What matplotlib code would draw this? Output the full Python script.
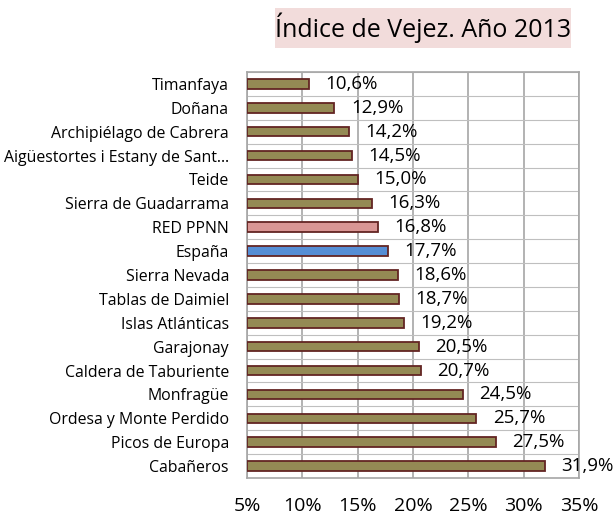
import numpy as np
import matplotlib.pyplot as plt
from matplotlib.patches import Rectangle

parques = ["Timanfaya", "Doñana", "Archipiélago de Cabrera",
           "Aigüestortes i Estany de Sant…", "Teide", "Sierra de Guadarrama",
           "RED PPNN", "España", "Sierra Nevada", "Tablas de Daimiel",
           "Islas Atlánticas", "Garajonay", "Caldera de Taburiente",
           "Monfragüe", "Ordesa y Monte Perdido", "Picos de Europa", "Cabañeros"]
indice = [10.6, 12.9, 14.2, 14.5, 15.0, 16.3, 16.8, 17.7, 18.6, 18.7,
          19.2, 20.5, 20.7, 24.5, 25.7, 27.5, 31.9]
x_ticks = [5, 10, 15, 20, 25, 30, 35]

plt.rcParams['font.family'] = ['Open Sans', 'DejaVu Sans']

colores = []
for p in parques:
    if p == "RED PPNN":
        colores.append("#D99694")
    elif p == "España":
        colores.append("#558ED5")
    else:
        colores.append("#948A54")

W, H = 613, 514
fig = plt.figure(figsize=(W / 100, H / 100), dpi=100)
ax = fig.add_axes([247 / W, 1 - 478 / H, (579 - 247) / W, (478 - 72) / H])

y = np.arange(len(parques))
ax.barh(y, [v - 5 for v in indice], left=5, height=0.4, color=colores,
        edgecolor="#632523", linewidth=1.3, zorder=3)

for yi, v in zip(y, indice):
    ax.text(v + 1.5, yi, f"{v:.1f}%".replace(".", ","), va="center",
            ha="left", fontsize=13.5, color="black", zorder=4)

ax.set_xlim(5, 35)
ax.set_ylim(len(parques) - 0.5, -0.5)
ax.set_xticks(x_ticks)
ax.set_xticklabels([f"{t}%" for t in x_ticks], fontsize=14)
ax.set_yticks(y)
ax.set_yticklabels(parques, fontsize=11.4)
ax.set_yticks(np.arange(-0.5, len(parques), 1), minor=True)
ax.tick_params(axis="y", length=0, pad=13)
ax.tick_params(axis="x", length=0, pad=14)
ax.tick_params(axis="y", which="minor", length=0)
ax.grid(axis="x", color="#A6A6A6", linewidth=1.2, zorder=0)
ax.grid(axis="y", which="minor", color="#BFBFBF", linewidth=0.8, zorder=0)
for s in ax.spines.values():
    s.set_color("#A6A6A6")
    s.set_linewidth(1.2)

# caja del título
fig.patches.append(Rectangle((275 / W, 1 - 48 / H), (571 - 275) / W, 40 / H,
                             transform=fig.transFigure, facecolor="#F2DCDB",
                             edgecolor="none"))
fig.text(423.5 / W, 1 - 28 / H, "Índice de Vejez. Año 2013", ha="center",
         va="center", fontsize=18)

fig.savefig("out.png", dpi=100)
